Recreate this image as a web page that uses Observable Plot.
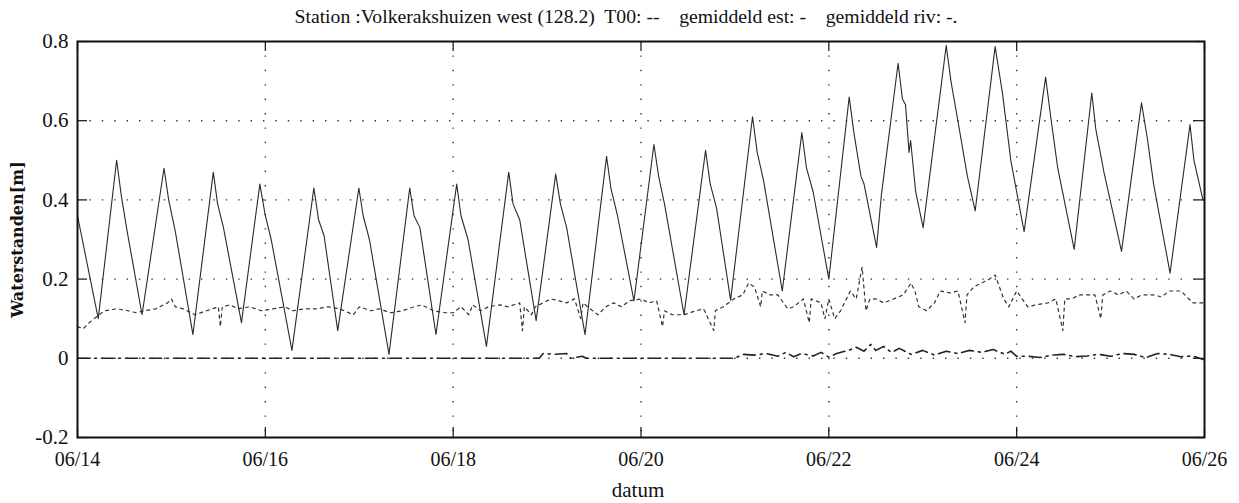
<!DOCTYPE html>
<html>
<head>
<meta charset="utf-8">
<script src="https://cdn.jsdelivr.net/npm/d3@7"></script>
<script src="https://cdn.jsdelivr.net/npm/@observablehq/plot@0.6"></script>
<style>
  html, body { margin: 0; padding: 0; background: #fff; }
  svg { white-space: pre; }
</style>
</head>
<body>
<div id="chart"></div>
<script>
// ---- data (hours since 06/14 00:00) ----
const titleText = "Station :Volkerakshuizen west (128.2)  T00: --    gemiddeld est: -    gemiddeld riv: -.";
const yLabel = "Waterstanden[m]";
const xLabel = "datum";
const xTickDays = [14, 16, 18, 20, 22, 24, 26];
const xGridDays = [16, 18, 20, 22, 24];
const yTicks = [-0.2, 0, 0.2, 0.4, 0.6, 0.8];
const yGrid = [0, 0.2, 0.4, 0.6];

// T00 measured water level
const tideHours = [0,5.3,10.0,11.2,12.7,16.5,22.1,23.3,25.0,29.5,34.7,35.8,37.3,41.9,46.6,48.0,49.5,54.8,60.4,61.6,63.0,66.5,71.9,73.0,74.6,79.6,84.9,86.0,87.5,91.6,96.9,98.0,99.8,104.5,110.2,111.3,113.0,117.2,122.2,123.4,125.0,129.7,135.2,136.3,138.0,142.2,147.3,148.5,150.0,155.0,160.5,161.7,163.3,166.9,172.5,173.7,175.3,180.1,185.1,186.3,188.0,192.0,197.2,198.4,200.2,201.0,204.2,205.4,209.7,210.8,211.6,212.5,212.9,214.2,216.1,222.0,223.2,224.8,227.4,229.4,234.5,236.4,238.5,241.9,247.4,248.7,250.5,254.7,259.2,260.2,262.3,266.8,271.9,273.4,275.0,279.2,284.3,285.3,287.6];
const tideLevel = [0.36,0.10,0.50,0.41,0.32,0.11,0.48,0.40,0.32,0.06,0.47,0.39,0.33,0.09,0.44,0.36,0.30,0.02,0.43,0.35,0.31,0.07,0.43,0.36,0.30,0.01,0.43,0.36,0.33,0.06,0.44,0.36,0.30,0.03,0.47,0.39,0.35,0.095,0.465,0.39,0.33,0.06,0.51,0.43,0.36,0.145,0.54,0.46,0.39,0.11,0.525,0.44,0.38,0.147,0.61,0.52,0.45,0.17,0.57,0.48,0.42,0.20,0.66,0.57,0.46,0.44,0.28,0.41,0.745,0.655,0.64,0.52,0.55,0.42,0.33,0.79,0.70,0.61,0.46,0.372,0.787,0.667,0.50,0.32,0.71,0.61,0.48,0.275,0.67,0.58,0.47,0.27,0.645,0.555,0.44,0.215,0.59,0.50,0.40];

// gemiddeld est
const estHours = [0,1.5,3,5.5,7,10,13,15,17,20,23,24,25,27,30,33,36,36.5,37,39,41,44,47,50,53,55,58,61,64,67,70.5,72,75,77,80,83,86,88,91,94,96,98,100,101,103,105,108,110,113,113.7,114.2,116,117,119,121,123,125,127,128.6,129.2,131,133,135,137,139,141,144,146,148,149.5,150,152,155,158,160,162.6,163,165,167.7,170,171.5,173,174.6,175,177,179,181.5,183,185.5,187,187.5,190,191,192,193.5,195,197.5,199,200.5,201.5,202.5,204,206,208.6,211,213,214,215,217,219,220.5,223,225,226.8,227.3,229,231,233,234.5,236.7,238,240,242.8,245,248,250,251.8,252.3,254,256,258,260,261.5,262,264,266,268,270,272,275,277,279,282,285,287.6];
const estLevel = [0.08,0.075,0.09,0.11,0.12,0.125,0.12,0.115,0.12,0.125,0.14,0.15,0.13,0.125,0.11,0.12,0.13,0.08,0.13,0.135,0.125,0.13,0.12,0.125,0.13,0.12,0.125,0.125,0.13,0.125,0.11,0.13,0.12,0.125,0.115,0.12,0.13,0.135,0.12,0.115,0.115,0.13,0.11,0.135,0.12,0.13,0.135,0.13,0.14,0.07,0.13,0.11,0.13,0.14,0.15,0.145,0.14,0.15,0.10,0.14,0.125,0.11,0.13,0.14,0.13,0.145,0.15,0.14,0.145,0.08,0.12,0.11,0.11,0.12,0.125,0.07,0.12,0.13,0.15,0.16,0.19,0.18,0.13,0.17,0.16,0.16,0.125,0.13,0.15,0.09,0.15,0.14,0.10,0.15,0.10,0.12,0.17,0.15,0.23,0.12,0.15,0.15,0.14,0.15,0.16,0.19,0.17,0.13,0.12,0.14,0.17,0.165,0.17,0.09,0.16,0.18,0.19,0.20,0.21,0.15,0.13,0.17,0.13,0.135,0.14,0.15,0.07,0.15,0.15,0.16,0.16,0.16,0.10,0.16,0.17,0.16,0.17,0.15,0.16,0.16,0.155,0.17,0.17,0.14,0.14];

// gemiddeld riv
const rivHours = [0,20,40,60,80,100,118,119,122,125,126,129,130,150,168,170,173,176,179,181,183,185,188,190,192,194,197,199,201,202.7,204,206,208,210,213,216,219,222,225,228,231,234,237,238.5,240,243,246,249,252,255,258,261,264,267,270,273,276,279,282,285,287.6];
const rivLevel = [0,0,0,0,0,0,0,0.012,0.01,0.012,0,0.005,0,0,0,0.01,0.008,0.012,0.005,0.015,0.004,0.012,0.006,0.015,0.003,0.012,0.02,0.028,0.018,0.035,0.02,0.03,0.015,0.025,0.01,0.02,0.008,0.018,0.012,0.02,0.015,0.022,0.01,0.018,0.005,0.005,0.002,0.008,0.01,0.004,0.006,0.01,0.005,0.012,0.01,0.002,0.012,0.01,0.004,0.006,-0.003];

// ---- build ----
const t0 = Date.UTC(1996, 5, 14);
const toDate = h => new Date(t0 + h * 3600e3);
const day = d => new Date(Date.UTC(1996, 5, d));
const tide = tideHours.map((h, i) => ({t: toDate(h), v: tideLevel[i]}));
const est = estHours.map((h, i) => ({t: toDate(h), v: estLevel[i]}));
const riv = rivHours.map((h, i) => ({t: toDate(h), v: rivLevel[i]}));
const xTicks = xTickDays.map(day);
const xGrid = xGridDays.map(day);

const serif = "Liberation Serif, serif";
const fmtX = d3.utcFormat("%m/%d");

const chart = Plot.plot({
  width: 1239,
  height: 503,
  marginLeft: 77,
  marginRight: 35,
  marginTop: 41,
  marginBottom: 66,
  style: {fontFamily: serif, fontSize: "20px", color: "#111", background: "#fff"},
  x: {type: "utc", domain: [day(14), day(26)], label: null},
  y: {domain: [-0.2, 0.8], label: null},
  marks: [
    Plot.gridX(xGrid, {stroke: "#333", strokeOpacity: 1, strokeWidth: 1.4, strokeDasharray: "1.4,13"}),
    Plot.gridY(yGrid, {stroke: "#333", strokeOpacity: 1, strokeWidth: 1.4, strokeDasharray: "1.4,11"}),
    // inward ticks
    Plot.tickY(yTicks, {y: d => d, insetRight: 1117, stroke: "#111", strokeWidth: 1.2}),
    Plot.tickY(yTicks, {y: d => d, insetLeft: 1117, stroke: "#111", strokeWidth: 1.2}),
    Plot.tickX(xTicks, {x: d => d, insetBottom: 386, stroke: "#111", strokeWidth: 1.2}),
    Plot.tickX(xTicks, {x: d => d, insetTop: 386, stroke: "#111", strokeWidth: 1.2}),
    // series
    Plot.line(riv, {x: "t", y: "v", stroke: "#222", strokeWidth: 1.6, strokeDasharray: "12,5,2,5"}),
    Plot.line(est, {x: "t", y: "v", stroke: "#333", strokeWidth: 1.2, strokeDasharray: "3,4"}),
    Plot.line(tide, {x: "t", y: "v", stroke: "#2a2a2a", strokeWidth: 1.1}),
    Plot.frame({stroke: "#111", strokeWidth: 2}),
    // axes
    Plot.axisY(yTicks, {anchor: "left", tickSize: 0, tickPadding: 9, tickFormat: d => String(d), fontSize: 21, fontFamily: serif, label: null}),
    Plot.axisX(xTicks, {anchor: "bottom", tickSize: 0, tickPadding: 14, tickFormat: fmtX, fontSize: 20, fontFamily: serif, label: null}),
    // labels
    Plot.text([yLabel], {text: d => d, frameAnchor: "left", dx: -60, rotate: -90, textAnchor: "middle", lineAnchor: "middle", fontFamily: "DejaVu Serif, serif", fontWeight: "bold", fontSize: 16, fill: "#111"}),
    Plot.text([xLabel], {text: d => d, frameAnchor: "bottom", dy: 53, dx: -3, lineAnchor: "middle", fontSize: 21, fontFamily: serif, fill: "#111"}),
    Plot.text([titleText], {text: d => d, frameAnchor: "top", dx: -15, dy: -25, lineAnchor: "middle", fontSize: 19.7, fontFamily: serif, fill: "#111"})
  ]
});
document.getElementById("chart").appendChild(chart);
</script>
</body>
</html>
